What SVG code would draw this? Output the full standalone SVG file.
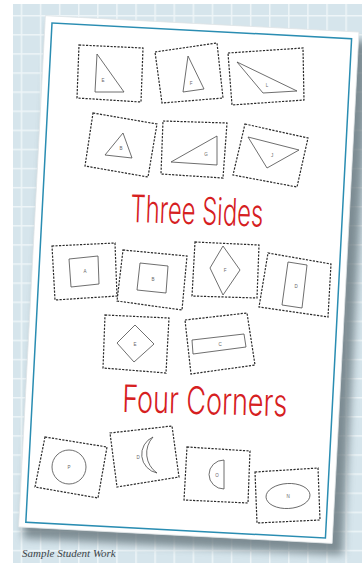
<svg xmlns="http://www.w3.org/2000/svg" width="362" height="563" viewBox="0 0 362 563">
  <defs>
    <pattern id="grid" patternUnits="userSpaceOnUse" x="1.6" y="15" width="19.1" height="19.1">
      <rect width="19.1" height="19.1" fill="#d6e5ec"/>
      <rect x="0" y="0" width="1.5" height="19.1" fill="#eef5f8"/>
      <rect x="0" y="0" width="19.1" height="1.5" fill="#eef5f8"/>
    </pattern>
    <filter id="blur" x="-10%" y="-10%" width="120%" height="120%">
      <feGaussianBlur stdDeviation="4"/>
    </filter>
  </defs>
  <style>
    .box{fill:none;stroke:#2a2a2a;stroke-width:1.2;stroke-dasharray:2.2 1.3}
    .shape{fill:none;stroke:#4a4a4a;stroke-width:0.8}
    .lbl{font-family:"Liberation Sans",Arial,sans-serif;font-size:4.5px;fill:#666;text-anchor:middle}
    .title{font-family:Inter,Roboto,"DejaVu Sans",sans-serif;font-weight:300;font-size:38px;fill:#d6201f}
  </style>

  <rect width="362" height="563" fill="#ffffff"/>
  <rect x="13" y="4" width="349" height="559" fill="url(#grid)"/>

  <g id="paper">
    <g transform="translate(52,23) rotate(3)">
      <rect x="-2" y="2" width="320" height="514" fill="#56666d" opacity="0.7" filter="url(#blur)"/>
      <rect x="-7" y="-7" width="314" height="512" fill="#ffffff" stroke="#dfe4e6" stroke-width="0.8"/>
      <rect x="0" y="0" width="300" height="500" fill="none" stroke="#2a8db2" stroke-width="1.5"/>
    </g>
  </g>

  <g id="tri-E">
    <polygon class="box" points="79,45 143,48 141,102 77,98"/>
    <polygon class="shape" points="97,54 95,92 124,92"/>
    <text class="lbl" x="103" y="82">E</text>
  </g>
  <g id="tri-F">
    <polygon class="box" points="155,52 217,43 223,98 162,103"/>
    <polygon class="shape" points="188,56 183,92 204,89"/>
    <text class="lbl" x="191" y="85">F</text>
  </g>
  <g id="tri-L">
    <polygon class="box" points="228,53 303,48 304,100 232,105"/>
    <polygon class="shape" points="237,62 263,93 297,91"/>
    <text class="lbl" x="267" y="87">L</text>
  </g>
  <g id="tri-B">
    <polygon class="box" points="93,113 157,124 148,177 85,166"/>
    <polygon class="shape" points="123,133 105,155 132,158"/>
    <text class="lbl" x="121" y="150">B</text>
  </g>
  <g id="tri-G">
    <polygon class="box" points="163,121 227,123 223,178 161,174"/>
    <polygon class="shape" points="217,136 171,162 217,165"/>
    <text class="lbl" x="206" y="156">G</text>
  </g>
  <g id="tri-J">
    <polygon class="box" points="245,124 308,138 297,187 233,175"/>
    <polygon class="shape" points="248,137 299,150 267,168"/>
    <text class="lbl" x="272" y="157">J</text>
  </g>

  <g id="title-three">
    <text class="title" x="130" y="222" textLength="133" lengthAdjust="spacingAndGlyphs" transform="rotate(2 130 222)">Three Sides</text>
  </g>

  <g id="quad-A">
    <polygon class="box" points="52,246 115,243 117,296 55,300"/>
    <polygon class="shape" points="69,259 98,256 99,284 71,287"/>
    <text class="lbl" x="85" y="273">A</text>
  </g>
  <g id="quad-B">
    <polygon class="box" points="123,250 187,256 182,310 117,301"/>
    <polygon class="shape" points="140,263 168,266 166,293 137,290"/>
    <text class="lbl" x="153" y="281">B</text>
  </g>
  <g id="quad-F">
    <polygon class="box" points="195,242 259,245 257,298 192,296"/>
    <polygon class="shape" points="223,246 240,270 223,295 210,268"/>
    <text class="lbl" x="225" y="272">F</text>
  </g>
  <g id="quad-D">
    <polygon class="box" points="268,253 331,264 328,317 259,307"/>
    <polygon class="shape" points="288,262 307,265 302,308 282,305"/>
    <text class="lbl" x="296" y="288">D</text>
  </g>
  <g id="quad-E">
    <polygon class="box" points="105,315 169,318 166,373 103,368"/>
    <polygon class="shape" points="135,325 154,344 134,362 117,343"/>
    <text class="lbl" x="135" y="346">E</text>
  </g>
  <g id="quad-C">
    <polygon class="box" points="185,320 247,313 255,365 191,374"/>
    <polygon class="shape" points="192,340 244,334 246,347 193,354"/>
    <text class="lbl" x="220" y="346">C</text>
  </g>

  <g id="title-four">
    <text class="title" x="122" y="412" textLength="165" lengthAdjust="spacingAndGlyphs" transform="rotate(1.5 122 412)">Four Corners</text>
  </g>

  <g id="round-P">
    <polygon class="box" points="45,437 107,447 98,498 35,487"/>
    <circle class="shape" cx="69" cy="467" r="17"/>
    <text class="lbl" x="69" y="469">P</text>
  </g>
  <g id="round-D">
    <polygon class="box" points="110,433 172,426 179,477 117,487"/>
    <path class="shape" d="M153,437 A19,19 0 0 0 157,473 A24,24 0 0 1 153,437 Z"/>
    <text class="lbl" x="138" y="459">D</text>
  </g>
  <g id="round-O">
    <polygon class="box" points="187,447 250,451 248,503 184,500"/>
    <path class="shape" d="M224,460 A15,14.5 0 0 0 224,489 Z"/>
    <text class="lbl" x="217" y="477">O</text>
  </g>
  <g id="round-N">
    <polygon class="box" points="255,472 318,468 320,520 257,523"/>
    <ellipse class="shape" cx="288" cy="496" rx="22" ry="12.5" transform="rotate(-3 288 496)"/>
    <text class="lbl" x="288" y="498">N</text>
  </g>

  <text x="22" y="557" font-family="'Liberation Serif','Times New Roman',serif" font-style="italic" font-size="11" fill="#3c4448">Sample Student Work</text>
</svg>
